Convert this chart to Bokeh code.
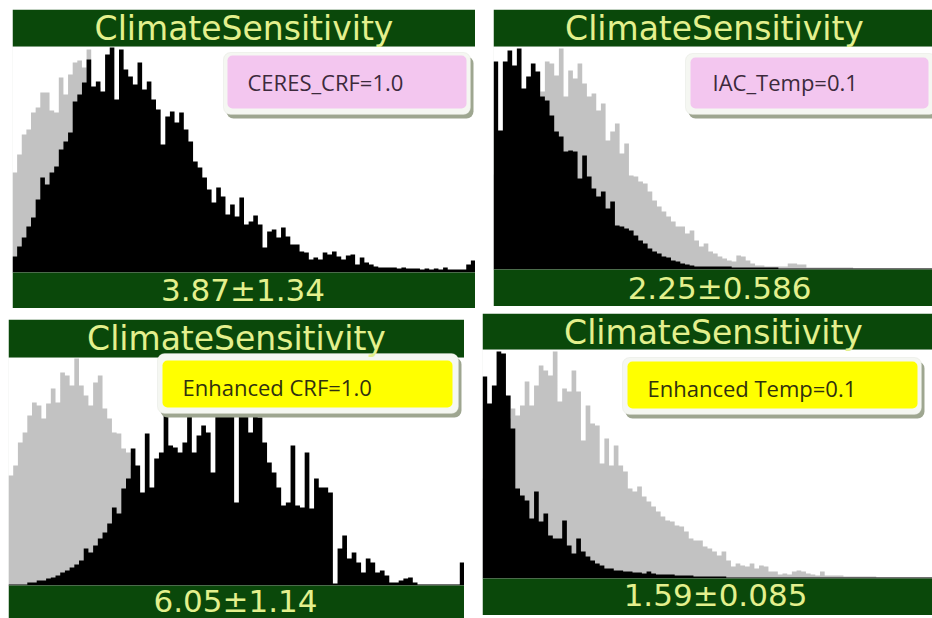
import numpy as np
from bokeh.plotting import figure
from bokeh.models import Range1d, Label, BoxAnnotation, ColumnDataSource
from bokeh.layouts import column, row
from bokeh.embed import file_html
from bokeh.resources import INLINE

# ---------------- data ----------------
TITLE = "ClimateSensitivity"
LEGEND_TEXTS = ["CERES_CRF=1.0", "IAC_Temp=0.1", "Enhanced  CRF=1.0", "Enhanced  Temp=0.1"]
VALUE_TEXTS = ["3.87±1.34", "2.25±0.586", "6.05±1.14", "1.59±0.085"]

ceres_black = [16, 26, 35, 46, 55, 73, 95, 88, 100, 106,
               123, 131, 140, 171, 178, 190, 213, 186, 191, 181,
               218, 225, 173, 223, 203, 196, 188, 210, 183, 191,
               173, 163, 128, 156, 161, 150, 160, 143, 131, 111,
               105, 95, 83, 70, 85, 76, 58, 68, 56, 75,
               48, 51, 57, 48, 25, 41, 43, 35, 45, 36,
               28, 28, 21, 20, 13, 15, 13, 20, 18, 21,
               16, 13, 17, 18, 8, 15, 10, 8, 6, 5,
               5, 5, 5, 4, 5, 4, 4, 4, 3, 4,
               3, 4, 3, 5, 3, 3, 3, 3, 8, 12]
ceres_grey = [100, 118, 138, 143, 160, 165, 180, 180, 162, 160,
              195, 178, 198, 210, 212, 205, 223, 180, 185, 175,
              175, 170, 165, 160, 155, 150, 145, 140, 132, 125,
              120, 112, 105, 98, 92, 86, 80, 75, 70, 65,
              60, 56, 52, 48, 44, 40, 38, 35, 32, 30,
              28, 26, 24, 22, 20, 19, 18, 16, 15, 14,
              13, 12, 11, 10, 9, 9, 8, 8, 7, 7,
              6, 6, 5, 5, 5, 4, 4, 4, 3, 3,
              3, 2, 2, 2, 2, 2, 2, 2, 2, 2,
              2, 1, 1, 1, 1, 1, 1, 1, 1, 1]

iac_black = [208, 139, 208, 219, 204, 221, 181, 193, 206, 198,
             173, 169, 154, 138, 133, 118, 119, 118, 91, 114,
             93, 81, 73, 78, 61, 68, 44, 43, 41, 39,
             34, 29, 26, 21, 18, 16, 13, 12, 9, 8,
             6, 5, 4, 3, 3, 3, 3, 3, 3, 3,
             3, 2, 2, 2, 2, 2, 2, 2, 2, 2,
             2, 1, 1, 1, 1, 1, 1, 1, 1, 1,
             1, 1, 1, 1, 1, 1, 1, 1, 1, 1,
             1, 1, 1, 1, 1, 1, 1, 1, 1, 1,
             1, 1, 1, 1]
iac_grey = [95, 110, 125, 135, 150, 160, 165, 170, 160, 170,
            178, 208, 206, 194, 221, 173, 199, 191, 206, 186,
            173, 176, 159, 166, 129, 138, 146, 116, 126, 94,
            93, 88, 86, 78, 69, 63, 58, 53, 48, 43,
            43, 36, 39, 29, 23, 26, 18, 16, 13, 11,
            9, 8, 14, 13, 9, 6, 4, 4, 3, 3,
            3, 3, 3, 6, 6, 5, 5, 2, 2, 2,
            2, 2, 2, 2, 2, 2, 2, 1, 1, 1,
            1, 1, 1, 1, 1, 1, 1, 1, 1, 1,
            1, 1, 1, 1]

enh_crf_black = [1, 1, 1, 1, 3, 3, 5, 5, 7, 8,
                 10, 13, 15, 18, 21, 25, 37, 33, 40, 47,
                 53, 62, 78, 72, 97, 107, 137, 120, 93, 152,
                 98, 127, 133, 185, 140, 138, 133, 143, 185, 133,
                 150, 160, 153, 113, 190, 177, 182, 195, 83, 190,
                 185, 153, 192, 168, 143, 123, 113, 98, 80, 83,
                 140, 80, 78, 133, 77, 107, 98, 98, 93, 2,
                 37, 50, 27, 33, 23, 13, 27, 23, 13, 15,
                 10, 3, 3, 5, 7, 8, 3, 1, 1, 1,
                 1, 1, 1, 1, 1, 1, 23]
enh_crf_grey = [110, 120, 143, 153, 170, 183, 180, 167, 182, 197,
                183, 213, 210, 200, 227, 200, 190, 180, 203, 210,
                177, 167, 153, 152, 137, 133, 120, 110, 88, 95,
                90, 85, 80, 75, 70, 66, 62, 58, 54, 50,
                47, 44, 41, 38, 35, 33, 31, 29, 27, 25,
                23, 21, 20, 18, 17, 16, 15, 14, 13, 12,
                11, 10, 9, 9, 8, 7, 7, 6, 6, 1,
                5, 5, 4, 4, 4, 3, 3, 3, 3, 2,
                2, 2, 2, 2, 2, 2, 1, 1, 1, 1,
                1, 1, 1, 1, 1, 1, 1]

enh_temp_black = [202, 175, 193, 227, 225, 183, 150, 90, 83, 78,
                  60, 87, 57, 65, 43, 40, 40, 58, 33, 25,
                  40, 27, 22, 18, 15, 13, 10, 10, 8, 8,
                  7, 7, 6, 6, 5, 7, 5, 4, 4, 4,
                  4, 3, 3, 3, 3, 2, 2, 2, 2, 2,
                  2, 2, 1, 1, 1, 1, 1, 1, 1, 1,
                  1, 1, 1, 1, 1, 1, 1, 1, 1, 1,
                  1, 1, 1, 1, 1, 1, 1, 1, 1, 1,
                  1, 1, 1, 1, 1, 1, 1, 1, 1, 1,
                  1, 1, 1, 1, 1, 1]
enh_temp_grey = [100, 115, 130, 140, 150, 160, 170, 163, 173, 197,
                 173, 193, 213, 208, 203, 227, 177, 190, 187, 208,
                 187, 138, 173, 155, 153, 115, 140, 113, 133, 113,
                 107, 90, 87, 92, 82, 77, 72, 67, 62, 58,
                 57, 53, 52, 47, 40, 38, 38, 32, 30, 27,
                 23, 27, 18, 12, 15, 13, 12, 15, 10, 13,
                 12, 7, 7, 4, 5, 4, 7, 8, 7, 5,
                 4, 3, 7, 3, 3, 3, 3, 2, 2, 2,
                 2, 2, 2, 2, 1, 1, 1, 1, 1, 1,
                 1, 1, 1, 1, 1, 1]

# ---------------- styling ----------------
GREEN = "#0a480a"
TITLE_COLOR = "#e3f08d"
GREY = "#c2c2c2"
PINK = "#f3c6ef"
YELLOW = "#ffff00"
SHADOW = "#9ea690"
FRAME = "#f5f7f2"
SIDE = "#d2d6cc"

PANELS = [
    dict(black=ceres_black, grey=ceres_grey, box=(12, 9, 463, 299, 37, 36), margin=(9, 0, 0, 12),
         title_cx=243.5, title_base=40, value_cx=242.5, value_base=300,
         legend=LEGEND_TEXTS[0], value=VALUE_TEXTS[0], fill=PINK, text_color="#3c2a3c",
         outer=(223, 470, 52, 114), inner=(227, 466, 55, 108), text_left=247, text_base=90),
    dict(black=iac_black, grey=iac_grey, box=(493, 9, 439, 297, 37, 37), margin=(9, 0, 0, 18),
         title_cx=714, title_base=40, value_cx=719, value_base=298,
         legend=LEGEND_TEXTS[1], value=VALUE_TEXTS[1], fill=PINK, text_color="#3c2a3c",
         outer=(685, 936, 53, 114), inner=(690, 928, 57, 108), text_left=712, text_base=90),
    dict(black=enh_crf_black, grey=enh_crf_grey, box=(8, 319, 456, 299, 38, 33), margin=(11, 0, 0, 8),
         title_cx=236, title_base=350, value_cx=235, value_base=611,
         legend=LEGEND_TEXTS[2], value=VALUE_TEXTS[2], fill=YELLOW, text_color="#30300f",
         outer=(157, 458, 353, 413), inner=(162, 452, 360, 407), text_left=182, text_base=395.5),
    dict(black=enh_temp_black, grey=enh_temp_grey, box=(482, 313, 450, 302, 36, 37), margin=(5, 0, 0, 18),
         title_cx=713, title_base=344, value_cx=715, value_base=605,
         legend=LEGEND_TEXTS[3], value=VALUE_TEXTS[3], fill=YELLOW, text_color="#30300f",
         outer=(622, 921, 357, 414), inner=(627, 917, 361, 408), text_left=647, text_base=396.5),
]

TITLE_PX = 33
VALUE_PX = 31
LEGEND_PX = 22


def build(spec):
    L, T, W, H, tb, bb = spec["box"]
    n = len(spec["black"])
    ph = H - tb - bb
    fb = T + H - bb  # page pixel row of the histogram baseline

    def fx(X):
        return (X - L) / W * n

    def fy(Y):
        return fb - Y

    p = figure(width=W, height=H, x_range=Range1d(0, n), y_range=Range1d(-bb, ph + tb),
               toolbar_location=None, output_backend="svg", title=None,
               x_axis_location=None, y_axis_location=None,
               min_border=0, min_border_left=0, min_border_right=0,
               min_border_top=0, min_border_bottom=0,
               border_fill_color="white", background_fill_color="white",
               outline_line_color=None, margin=spec["margin"])
    p.xgrid.visible = False
    p.ygrid.visible = False

    # faint side edges of the plotting area
    p.add_layout(BoxAnnotation(bottom=0, top=ph, fill_alpha=0, line_color=SIDE, line_width=1))

    edges = np.arange(n + 1)
    grey = list(spec["grey"]) + [spec["grey"][-1]]
    black = list(spec["black"]) + [spec["black"][-1]]
    src = ColumnDataSource(dict(x=edges, grey=grey, black=black, zero=np.zeros(n + 1)))
    p.varea_step(x="x", y1="zero", y2="grey", step_mode="after", source=src, fill_color=GREY)
    p.varea_step(x="x", y1="zero", y2="black", step_mode="after", source=src, fill_color="black")

    # dark green title and value bars
    p.add_layout(BoxAnnotation(bottom=ph, top=ph + tb, fill_color=GREEN, fill_alpha=1, line_color=None))
    p.add_layout(BoxAnnotation(bottom=-bb, top=0, fill_color=GREEN, fill_alpha=1, line_color=None))

    # legend box with shadow
    x0, x1, y0, y1 = spec["outer"]
    p.add_layout(BoxAnnotation(left=fx(x0 + 3), right=fx(x1 + 3), top=fy(y0 + 4), bottom=fy(y1 + 4),
                               fill_color=SHADOW, fill_alpha=1, line_color=None, border_radius=7))
    p.add_layout(BoxAnnotation(left=fx(x0), right=fx(x1), top=fy(y0), bottom=fy(y1),
                               fill_color=FRAME, fill_alpha=1, line_color="#d6dacf", border_radius=7))
    x0, x1, y0, y1 = spec["inner"]
    p.add_layout(BoxAnnotation(left=fx(x0), right=fx(x1), top=fy(y0), bottom=fy(y1),
                               fill_color=spec["fill"], fill_alpha=1, line_color=None, border_radius=5))
    p.add_layout(Label(x=fx(spec["text_left"]), y=fy(spec["text_base"] - 0.39 * LEGEND_PX),
                       text=spec["legend"], text_align="left", text_baseline="middle",
                       text_font="Open Sans", text_font_size=f"{LEGEND_PX}px",
                       text_color=spec["text_color"]))

    p.add_layout(Label(x=fx(spec["title_cx"]), y=fy(spec["title_base"] - 0.35 * TITLE_PX), text=TITLE,
                       text_align="center", text_baseline="middle",
                       text_font="DejaVu Sans", text_font_size=f"{TITLE_PX}px", text_color=TITLE_COLOR))
    p.add_layout(Label(x=fx(spec["value_cx"]), y=fy(spec["value_base"] - 0.35 * VALUE_PX), text=spec["value"],
                       text_align="center", text_baseline="middle",
                       text_font="DejaVu Sans", text_font_size=f"{VALUE_PX}px", text_color=TITLE_COLOR))
    return p


figs = [build(s) for s in PANELS]
layout = column(row(figs[0], figs[1]), row(figs[2], figs[3]))

open("out.html", "w").write(file_html(layout, INLINE))
